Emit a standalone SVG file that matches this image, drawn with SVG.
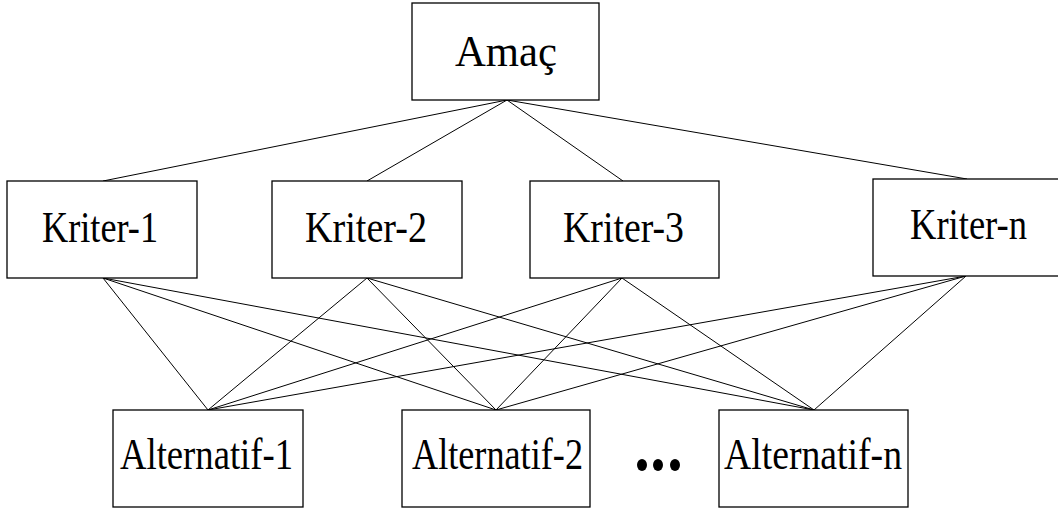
<svg xmlns="http://www.w3.org/2000/svg" width="1058" height="510" viewBox="0 0 1058 510">
<style>
.box{fill:#fff;stroke:#000;stroke-width:1.3}
.lbl{font-family:"Liberation Serif","Times New Roman",serif;font-size:45px;fill:#000}
.con line{stroke:#000;stroke-width:1}
</style>
<rect width="1058" height="510" fill="#fff"/>
<g class="con">
<line x1="507" y1="100" x2="103" y2="181"/>
<line x1="507" y1="100" x2="367" y2="181"/>
<line x1="507" y1="100" x2="623" y2="181"/>
<line x1="507" y1="100" x2="967" y2="179"/>
<line x1="103" y1="278" x2="208" y2="410"/>
<line x1="103" y1="278" x2="496" y2="410"/>
<line x1="103" y1="278" x2="814" y2="410"/>
<line x1="367" y1="278" x2="208" y2="410"/>
<line x1="367" y1="278" x2="496" y2="410"/>
<line x1="367" y1="278" x2="814" y2="410"/>
<line x1="622" y1="278" x2="208" y2="410"/>
<line x1="622" y1="278" x2="496" y2="410"/>
<line x1="622" y1="278" x2="814" y2="410"/>
<line x1="966" y1="276" x2="208" y2="410"/>
<line x1="966" y1="276" x2="496" y2="410"/>
<line x1="966" y1="276" x2="814" y2="410"/>
</g>
<g id="amac"><rect class="box" x="412" y="3" width="187" height="97"/><text class="lbl" x="455" y="66" textLength="102" lengthAdjust="spacingAndGlyphs">Amaç</text></g>
<g id="kriter1"><rect class="box" x="7" y="181" width="190" height="97"/><text class="lbl" x="42" y="242" textLength="116" lengthAdjust="spacingAndGlyphs">Kriter-1</text></g>
<g id="kriter2"><rect class="box" x="272" y="181" width="190" height="97"/><text class="lbl" x="305" y="242" textLength="122" lengthAdjust="spacingAndGlyphs">Kriter-2</text></g>
<g id="kriter3"><rect class="box" x="530" y="181" width="189" height="97"/><text class="lbl" x="563" y="242" textLength="121" lengthAdjust="spacingAndGlyphs">Kriter-3</text></g>
<g id="kritern"><rect class="box" x="873" y="179" width="190" height="97"/><text class="lbl" x="910" y="239" textLength="117" lengthAdjust="spacingAndGlyphs">Kriter-n</text></g>
<g id="alt1"><rect class="box" x="113" y="410" width="190" height="97"/><text class="lbl" x="120" y="469" textLength="173" lengthAdjust="spacingAndGlyphs">Alternatif-1</text></g>
<g id="alt2"><rect class="box" x="402" y="410" width="188" height="97"/><text class="lbl" x="412" y="469" textLength="171" lengthAdjust="spacingAndGlyphs">Alternatif-2</text></g>
<g id="altn"><rect class="box" x="719" y="410" width="189" height="97"/><text class="lbl" x="724" y="469" textLength="178" lengthAdjust="spacingAndGlyphs">Alternatif-n</text></g>
<g id="dots" fill="#000">
<ellipse cx="642" cy="465" rx="5" ry="6"/>
<ellipse cx="658" cy="465" rx="5" ry="6"/>
<ellipse cx="675" cy="465" rx="5" ry="6"/>
</g>
</svg>
